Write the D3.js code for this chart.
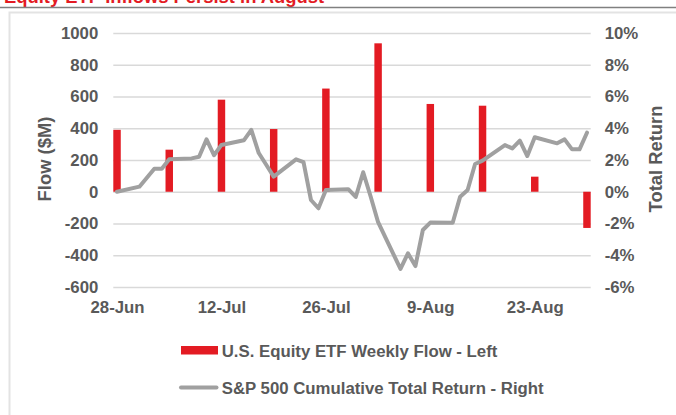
<!DOCTYPE html>
<html>
<head>
  <meta charset="utf-8">
  <title>equity etf flows</title>
  <script src="https://cdn.jsdelivr.net/npm/d3@7"></script>
  <style>
    body{margin:0; background:#fff;}
    svg text{font-family: Arial, "Liberation Sans", sans-serif; font-weight:700;}
  </style>
</head>
<body>
<div id="container"></div>
<script>
  // weekly flows ($M), left axis
  var flowDates = ["2024-06-28","2024-07-05","2024-07-12","2024-07-19","2024-07-26",
                   "2024-08-02","2024-08-09","2024-08-16","2024-08-23","2024-08-30"];
  var flowValues = [390, 265, 580, 395, 650, 935, 553, 542, 95, -228];

  // S&P 500 cumulative total return (%), right axis
  var returnDates = ["2024-06-28","2024-07-01","2024-07-02","2024-07-03","2024-07-04","2024-07-05",
                     "2024-07-08","2024-07-09","2024-07-10","2024-07-11","2024-07-12",
                     "2024-07-15","2024-07-16","2024-07-17","2024-07-18","2024-07-19",
                     "2024-07-22","2024-07-23","2024-07-24","2024-07-25","2024-07-26",
                     "2024-07-29","2024-07-30","2024-07-31","2024-08-01","2024-08-02",
                     "2024-08-05","2024-08-06","2024-08-07","2024-08-08","2024-08-09",
                     "2024-08-12","2024-08-13","2024-08-14","2024-08-15","2024-08-16",
                     "2024-08-19","2024-08-20","2024-08-21","2024-08-22","2024-08-23",
                     "2024-08-26","2024-08-27","2024-08-28","2024-08-29","2024-08-30"];
  var returnValues = [0.0, 0.32, 0.88, 1.45, 1.45, 2.04,
                      2.1, 2.2, 3.3, 2.3, 2.95,
                      3.24, 3.9, 2.44, 1.7, 0.95,
                      2.04, 1.86, -0.52, -1.04, 0.11,
                      0.16, -0.33, 1.23, -0.3, -1.92,
                      -4.86, -3.88, -4.68, -2.41, -1.94,
                      -1.95, -0.31, 0.11, 1.75, 1.96,
                      2.94, 2.73, 3.22, 2.25, 3.43,
                      3.05, 3.3, 2.67, 2.67, 3.72];

  var xTicks = ["2024-06-28","2024-07-12","2024-07-26","2024-08-09","2024-08-23"];
  var flowTicks = [-600, -400, -200, 0, 200, 400, 600, 800, 1000];
  var returnTicks = [-6, -4, -2, 0, 2, 4, 6, 8, 10];

  var seriesNames = ["U.S. Equity ETF Weekly Flow - Left", "S&P 500 Cumulative Total Return - Right"];
  var titleText = "Equity ETF Inflows Persist in August";

  var red = "#e31b23", gray = "#a0a0a0", textCol = "#595959", gridCol = "#d9d9d9";
  var fs = "16.8px";

  var W = 676, H = 415;
  var plot = {left: 113.3, right: 590.7, top: 33, bottom: 287};

  var parse = d3.utcParse("%Y-%m-%d");

  var svg = d3.select("#container").append("svg")
      .attr("width", W).attr("height", H);

  // title strip (cut off at the top) and frame
  svg.append("text")
      .attr("x", 4).attr("y", 3)
      .attr("fill", red)
      .style("font-size", "18.4px")
      .text(titleText);
  svg.append("line")
      .attr("x1", 0).attr("x2", W).attr("y1", 7.5).attr("y2", 7.5)
      .attr("stroke", "#808080").attr("stroke-width", 1.5);
  svg.append("rect")
      .attr("x", 9.5).attr("y", 12.5).attr("width", 720).attr("height", 500)
      .attr("fill", "none").attr("stroke", "#e3e3e3").attr("stroke-width", 2);

  var half = 12 * 3600 * 1000;
  var xScale = d3.scaleUtc()
      .domain([new Date(+parse("2024-06-28") - half), new Date(+parse("2024-08-30") + half)])
      .range([plot.left, plot.right]);
  var yLeft = d3.scaleLinear().domain([-600, 1000]).range([plot.bottom, plot.top]);
  var yRight = d3.scaleLinear().domain([-6, 10]).range([plot.bottom, plot.top]);

  // left axis + gridlines
  var gl = svg.append("g")
      .attr("transform", "translate(" + plot.left + ",0)")
      .call(d3.axisLeft(yLeft).tickValues(flowTicks)
        .tickFormat(function(d){ return String(d); })
        .tickSizeInner(-(plot.right - plot.left)).tickSizeOuter(0).tickPadding(15));
  gl.select(".domain").remove();
  gl.selectAll(".tick line").attr("stroke", gridCol).attr("stroke-width", 1.4);
  gl.selectAll(".tick text").attr("fill", textCol).style("font-size", fs);

  // right axis
  var gr = svg.append("g")
      .attr("transform", "translate(" + plot.right + ",0)")
      .call(d3.axisRight(yRight).tickValues(returnTicks)
        .tickFormat(function(d){ return d + "%"; })
        .tickSize(0).tickPadding(14));
  gr.select(".domain").remove();
  gr.selectAll(".tick text").attr("fill", textCol).style("font-size", fs);

  // bottom axis
  var gx = svg.append("g")
      .attr("transform", "translate(0," + plot.bottom + ")")
      .call(d3.axisBottom(xScale).tickValues(xTicks.map(parse))
        .tickFormat(d3.utcFormat("%-d-%b")).tickSize(0).tickPadding(13.8));
  gx.select(".domain").remove();
  gx.selectAll(".tick text").attr("fill", textCol).style("font-size", fs);

  // bars
  var flows = flowDates.map(function(d, i){ return {date: parse(d), v: flowValues[i]}; });
  var bw = xScale(parse("2024-06-29")) - xScale(parse("2024-06-28"));
  svg.append("g").selectAll("rect")
      .data(flows).enter().append("rect")
      .attr("x", function(d){ return xScale(d.date) - bw / 2; })
      .attr("width", bw)
      .attr("y", function(d){ return yLeft(Math.max(0, d.v)); })
      .attr("height", function(d){ return Math.abs(yLeft(d.v) - yLeft(0)); })
      .attr("fill", red);

  // return line
  var rets = returnDates.map(function(d, i){ return {date: parse(d), v: returnValues[i]}; });
  var line = d3.line()
      .x(function(d){ return xScale(d.date); })
      .y(function(d){ return yRight(d.v); });
  svg.append("path")
      .datum(rets)
      .attr("d", line)
      .attr("fill", "none")
      .attr("stroke", gray)
      .attr("stroke-width", 4)
      .attr("stroke-linejoin", "round")
      .attr("stroke-linecap", "round");

  // axis titles
  svg.append("text")
      .attr("transform", "translate(45,159) rotate(-90)")
      .attr("text-anchor", "middle").attr("dy", "0.35em")
      .attr("fill", textCol).style("font-size", "18.4px")
      .text("Flow ($M)");
  svg.append("text")
      .attr("transform", "translate(656,159) rotate(-90)")
      .attr("text-anchor", "middle").attr("dy", "0.35em")
      .attr("fill", textCol).style("font-size", "18.4px")
      .text("Total Return");

  // legend
  var leg = svg.append("g");
  leg.append("rect")
      .attr("x", 181).attr("y", 346).attr("width", 37).attr("height", 8.5)
      .attr("fill", red);
  leg.append("line")
      .attr("x1", 181).attr("x2", 216.5).attr("y1", 387.5).attr("y2", 387.5)
      .attr("stroke", gray).attr("stroke-width", 4).attr("stroke-linecap", "round");
  leg.selectAll(".legtext")
      .data(seriesNames).enter().append("text")
      .attr("class", "legtext")
      .attr("x", 221.7)
      .attr("y", function(d, i){ return i == 0 ? 356.7 : 394; })
      .attr("fill", textCol).style("font-size", fs)
      .text(function(d){ return d; });
</script>
</body>
</html>
